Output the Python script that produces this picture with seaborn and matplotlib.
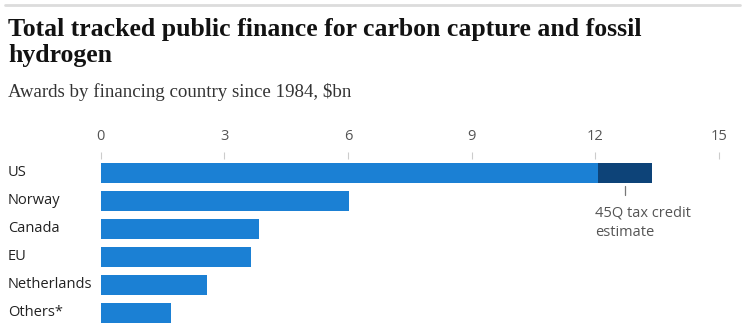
import matplotlib
matplotlib.use("Agg")
import matplotlib.pyplot as plt
import matplotlib.transforms as mtransforms
from matplotlib.lines import Line2D
import seaborn as sns
import pandas as pd

countries = ["US", "Norway", "Canada", "EU", "Netherlands", "Others*"]
awards = [12.07, 6.03, 3.85, 3.66, 2.58, 1.71]
tax_credit_45q = [1.31, 0, 0, 0, 0, 0]
xticks = [0, 3, 6, 9, 12, 15]

title = "Total tracked public finance for carbon capture and fossil\nhydrogen"
subtitle = "Awards by financing country since 1984, $bn"
note = "45Q tax credit\nestimate"

light = "#1b80d4"
dark = "#0d4378"

df = pd.DataFrame({"country": countries, "awards": awards, "q45": tax_credit_45q})
df["total"] = df["awards"] + df["q45"]

sns.set_style("white")
plt.rcParams["font.family"] = ["Open Sans", "DejaVu Sans"]

fig = plt.figure(figsize=(7.5, 3.34), dpi=100)
ax = fig.add_axes([0.134, 0.021, 0.8247, 0.503])

sns.barplot(data=df, x="total", y="country", orient="h", color=dark,
            width=0.68, saturation=1, linewidth=0, ax=ax)
sns.barplot(data=df, x="awards", y="country", orient="h", color=light,
            width=0.68, saturation=1, linewidth=0, ax=ax)

ax.set_xlim(0, 15)
ax.set_ylim(len(countries) - 0.5, -0.5)
ax.set_xticks(xticks)
ax.set_xticklabels([str(t) for t in xticks])
ax.xaxis.tick_top()
ax.tick_params(axis="x", which="both", top=True, bottom=False, length=5, width=0.8,
               color="#cccccc", labelcolor="#555555", labelsize=10.5, pad=6)
ax.set_yticks([])
ax.set_xlabel("")
ax.set_ylabel("")
for s in ax.spines.values():
    s.set_visible(False)

# category labels at left
trans = mtransforms.blended_transform_factory(fig.transFigure, ax.transData)
for i, c in enumerate(countries):
    fig.text(8 / 750, i, c, transform=trans, ha="left", va="center",
             fontsize=10.5, color="#222222")

# 45Q annotation
us_tip = df.loc[0, "awards"] + df.loc[0, "q45"] / 2
ax.plot([us_tip, us_tip], [0.45, 0.8], color="#777777", lw=0.9, clip_on=False)
ax.text(12.0, 1.15, note, ha="left", va="top", fontsize=10.5, color="#555555",
        linespacing=1.4)

# header
fig.add_artist(Line2D([5 / 750, 740 / 750], [1 - 5 / 334, 1 - 5 / 334],
                      color="#dcdcdc", lw=2))
fig.text(8 / 750, 1 - 18 / 334, title, ha="left", va="top", fontsize=18.5,
         fontweight="bold", family=["Liberation Serif", "DejaVu Serif"],
         color="#121212", linespacing=1.17)
fig.text(8 / 750, 1 - 83 / 334, subtitle, ha="left", va="top", fontsize=13.6,
         family=["Liberation Serif", "DejaVu Serif"], color="#333333")

fig.savefig("out.png", dpi=100)
